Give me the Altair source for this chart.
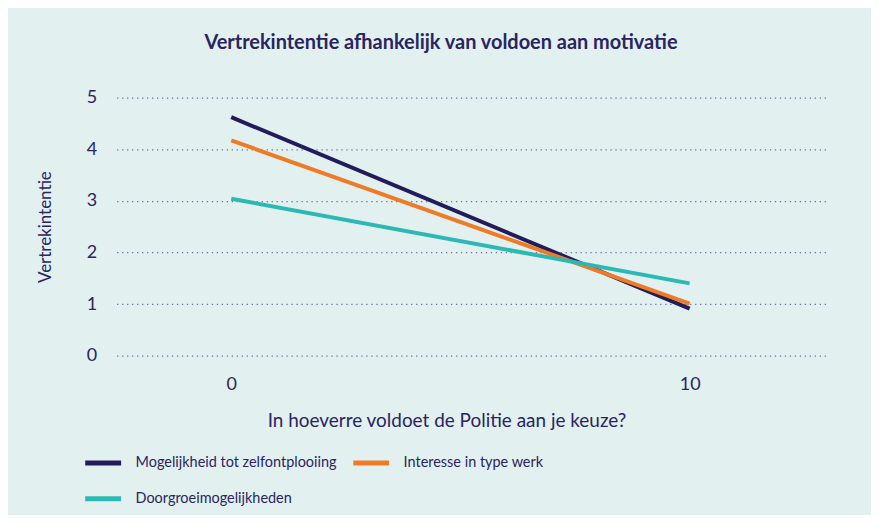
import altair as alt
import pandas as pd

series = ["Mogelijkheid tot zelfontplooiing", "Interesse in type werk", "Doorgroeimogelijkheden"]
legend_order = ["Mogelijkheid tot zelfontplooiing", "Doorgroeimogelijkheden", "Interesse in type werk"]
x_vals = [0, 10]
mogelijkheid = [4.62, 0.91]
interesse = [4.17, 1.01]
doorgroei = [3.04, 1.40]
colors = {"Mogelijkheid tot zelfontplooiing": "#221c5a",
          "Interesse in type werk": "#ef7b27",
          "Doorgroeimogelijkheden": "#2cb8b4"}

rows = []
for name, vals in zip(series, [mogelijkheid, interesse, doorgroei]):
    for x, v in zip(x_vals, vals):
        rows.append({"serie": name, "x": x, "y": v})
df = pd.DataFrame(rows)

TEXT = "#2a2462"
FONT = "Lato"

chart = alt.Chart(df).mark_line(strokeWidth=4, strokeCap="butt").encode(
    x=alt.X("x:Q", scale=alt.Scale(domain=[-2.5, 13], nice=False, zero=False),
            axis=alt.Axis(values=[0, 10], grid=False, domain=False, ticks=False,
                          labelPadding=20, labelFontSize=18, titleFontSize=19,
                          titlePadding=18, titleX=331, titleAnchor="middle",
                          titleFontWeight="normal",
                          title="In hoeverre voldoet de Politie aan je keuze?")),
    y=alt.Y("y:Q", scale=alt.Scale(domain=[0, 5], nice=False),
            axis=alt.Axis(values=[0, 1, 2, 3, 4, 5], grid=True, domain=False, ticks=False,
                          gridDash=[1.3, 3.7], gridColor="#6f6e9e", gridWidth=1.2,
                          labelPadding=20, labelFontSize=18, titleFontSize=17,
                          titleFontWeight="normal", titlePadding=32,
                          title="Vertrekintentie")),
    color=alt.Color("serie:N",
                    scale=alt.Scale(domain=legend_order, range=[colors[s] for s in legend_order]),
                    legend=alt.Legend(title=None, orient="none", legendX=-34, legendY=346,
                                      columns=2, symbolType="stroke", symbolSize=1296,
                                      symbolStrokeWidth=5, labelOffset=12,
                                      labelFontSize=14.5, labelColor=TEXT, labelFont=FONT,
                                      columnPadding=6, rowPadding=5, labelLimit=400)),
).properties(
    width=713, height=259,
    title=alt.Title("Vertrekintentie afhankelijk van voldoen aan motivatie",
                    fontSize=20, fontWeight="bold", color=TEXT, font=FONT,
                    anchor="middle", dx=-31, offset=36),
    autosize=alt.AutoSizeParams(type="none"),
    padding={"left": 109, "top": 89, "right": 44, "bottom": 159},
    background="#e2f1ef",
).configure_view(stroke=None).configure_axis(
    labelColor=TEXT, titleColor=TEXT, labelFont=FONT, titleFont=FONT
)

chart.save("out.html", embed_options={"renderer": "svg", "actions": False})
